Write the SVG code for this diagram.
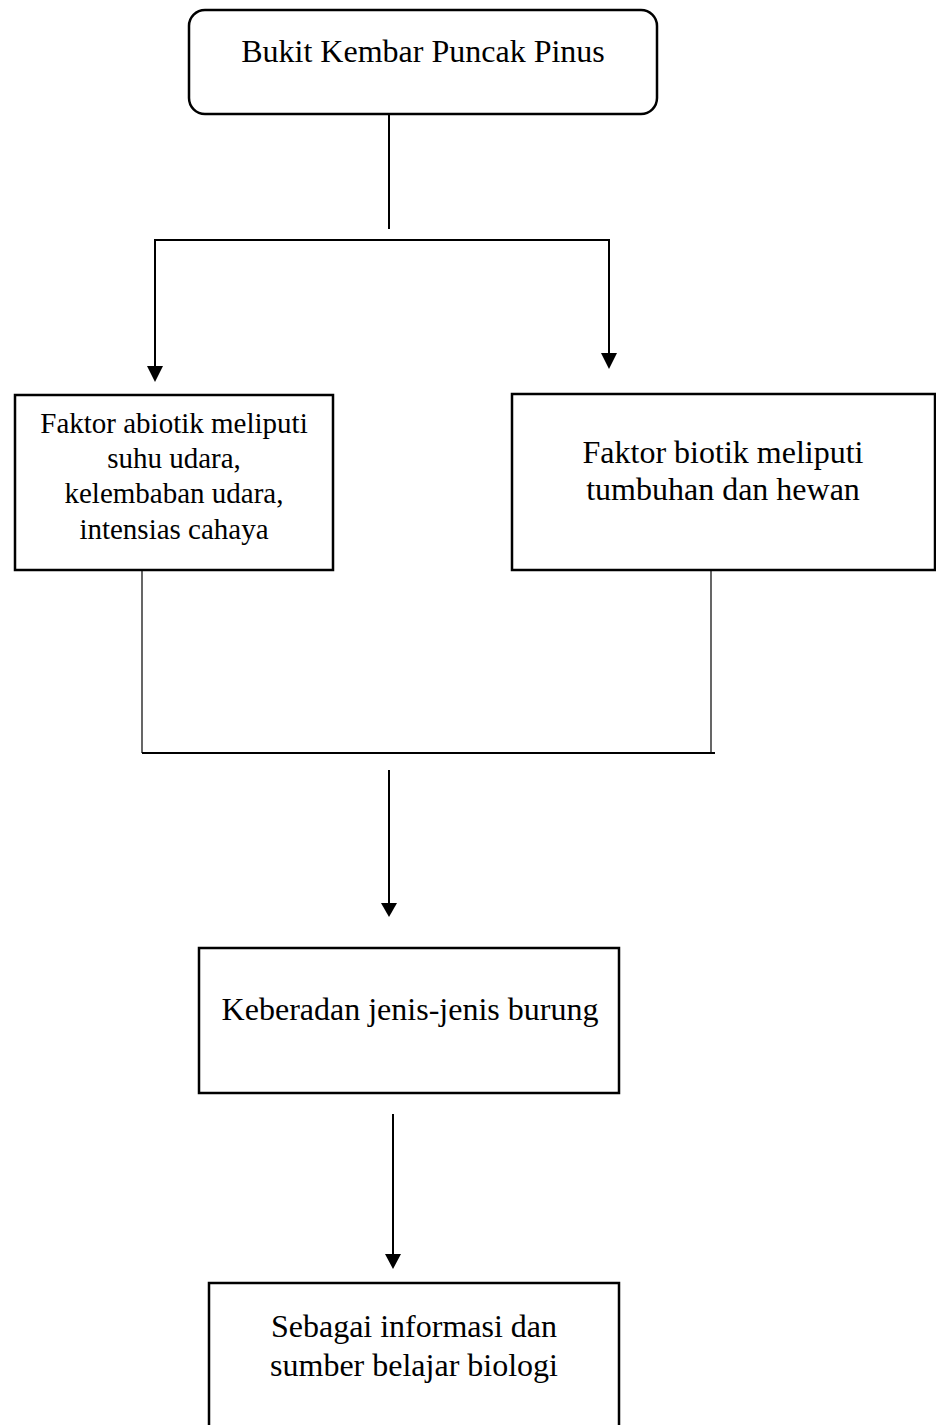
<svg xmlns="http://www.w3.org/2000/svg" width="936" height="1425" viewBox="0 0 936 1425">
<defs>
<style>
.box{fill:#fff;stroke:#000;stroke-width:2.5}
.t{font-family:"Liberation Serif","Times New Roman",serif;font-size:32px;fill:#000;text-anchor:middle}
.t29{font-size:29px}
.c{fill:none;stroke:#000;stroke-width:2}
.thin{fill:none;stroke:#000;stroke-width:1.2}
.ah{fill:#000}
</style>
</defs>
<rect width="936" height="1425" fill="#fff"/>
<g id="connectors">
<line class="c" x1="389" y1="114" x2="389" y2="229"/>
<polyline class="c" points="155,366 155,240 609,240 609,353"/>
<polygon class="ah" points="147,366 163,366 155,382"/>
<polygon class="ah" points="601,353 617,353 609,369"/>
<line class="thin" x1="142" y1="570" x2="142" y2="753"/>
<line class="thin" x1="711" y1="570" x2="711" y2="753"/>
<line class="c" x1="142" y1="753" x2="715" y2="753"/>
<line class="c" x1="389" y1="770" x2="389" y2="903"/>
<polygon class="ah" points="381,903 397,903 389,917"/>
<line class="c" x1="393" y1="1114" x2="393" y2="1254"/>
<polygon class="ah" points="385,1254 401,1254 393,1269"/>
</g>
<g id="node-bukit">
<rect class="box" x="189" y="10" width="468" height="104" rx="16" ry="16"/>
<text class="t" x="423" y="62">Bukit Kembar Puncak Pinus</text>
</g>
<g id="node-abiotik">
<rect class="box" x="15" y="395" width="318" height="175"/>
<text class="t t29" x="174" y="433">Faktor abiotik meliputi</text>
<text class="t t29" x="174" y="468">suhu udara,</text>
<text class="t t29" x="174" y="503">kelembaban udara,</text>
<text class="t t29" x="174" y="539">intensias cahaya</text>
</g>
<g id="node-biotik">
<rect class="box" x="512" y="394" width="423" height="176"/>
<text class="t" x="723" y="463">Faktor biotik meliputi</text>
<text class="t" x="723" y="500">tumbuhan dan hewan</text>
</g>
<g id="node-burung">
<rect class="box" x="199" y="948" width="420" height="145"/>
<text class="t" x="410" y="1020">Keberadan jenis-jenis burung</text>
</g>
<g id="node-sumber">
<rect class="box" x="209" y="1283" width="410" height="170"/>
<text class="t" x="414" y="1337">Sebagai informasi dan</text>
<text class="t" x="414" y="1376">sumber belajar biologi</text>
</g>
</svg>
